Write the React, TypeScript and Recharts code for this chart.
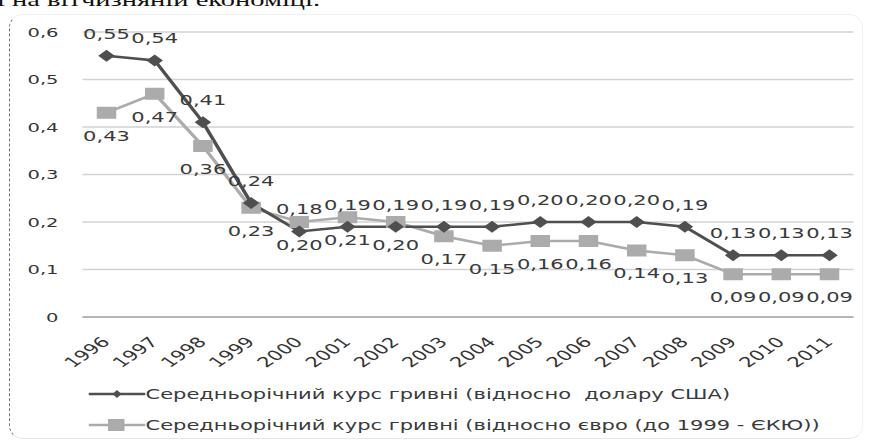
import React from 'react';
import { LineChart, Line, XAxis, YAxis, CartesianGrid, LabelList } from 'recharts';

const years = ['1996', '1997', '1998', '1999', '2000', '2001', '2002', '2003', '2004', '2005', '2006', '2007', '2008', '2009', '2010', '2011'];
const usdRate = [0.55, 0.54, 0.41, 0.24, 0.18, 0.19, 0.19, 0.19, 0.19, 0.2, 0.2, 0.2, 0.19, 0.13, 0.13, 0.13];
const eurRate = [0.43, 0.47, 0.36, 0.23, 0.2, 0.21, 0.2, 0.17, 0.15, 0.16, 0.16, 0.14, 0.13, 0.09, 0.09, 0.09];
const yTicks = [0, 0.1, 0.2, 0.3, 0.4, 0.5, 0.6];
const usdName = 'Середньорічний курс гривні (відносно  долару США)';
const eurName = 'Середньорічний курс гривні (відносно євро (до 1999 - ЄКЮ))';

const data = years.map((year, i) => ({ year, usd: usdRate[i], eur: eurRate[i] }));

// the source picture is stretched sideways, so the chart is drawn narrow and scaled
const STRETCH = 1.5;
const W = 581;
const H = 441;
const FONT = '"DejaVu Sans", Verdana, sans-serif';
const DARK = '#4f4f4f';
const LIGHT = '#ababab';

const fmt = (v: number) => v.toFixed(2).replace('.', ',');

const Diamond = ({ cx, cy }: any) => {
  if (cx == null || cy == null) return null;
  return <path d={`M${cx},${cy - 6} L${cx + 5.5},${cy} L${cx},${cy + 6} L${cx - 5.5},${cy} Z`} fill={DARK} />;
};

const Square = ({ cx, cy }: any) => {
  if (cx == null || cy == null) return null;
  return <rect x={cx - 6.5} y={cy - 6} width={13} height={12} fill={LIGHT} />;
};

const TopLabel = ({ x, y, value }: any) => (
  <text x={x} y={y - 17} textAnchor="middle" fontSize={14} fill="#3a3a3a" fontFamily={FONT}>
    {fmt(value)}
  </text>
);

const BottomLabel = ({ x, y, value }: any) => (
  <text x={x} y={y + 28} textAnchor="middle" fontSize={14} fill="#3a3a3a" fontFamily={FONT}>
    {fmt(value)}
  </text>
);

const YearTick = ({ x, y, payload }: any) => (
  <text
    transform={`translate(${x + 3},${y + 24}) rotate(-45)`}
    textAnchor="end"
    fontSize={14}
    fill="#333"
    fontFamily={FONT}
  >
    {payload.value}
  </text>
);

const LegendRow = ({ name, square }: { name: string; square?: boolean }) => (
  <div style={{ display: 'flex', alignItems: 'center', height: 31 }}>
    <svg width={38} height={14} style={{ flex: 'none' }}>
      <line x1={0} y1={7} x2={38} y2={7} stroke={square ? LIGHT : DARK} strokeWidth={2.5} />
      {square ? (
        <rect x={13} y={1} width={11} height={12} fill={LIGHT} />
      ) : (
        <path d="M19,3 L22,7 L19,11 L16,7 Z" fill={DARK} />
      )}
    </svg>
    <span style={{ fontSize: 14, color: '#3a3a3a', whiteSpace: 'pre', fontFamily: FONT }}>{name}</span>
  </div>
);

export default function App() {
  return (
    <div style={{ position: 'absolute', left: 0, top: 0, width: 872, height: 441, background: '#fff', overflow: 'hidden' }}>
      <div
        style={{
          position: 'absolute',
          left: 9,
          top: 14,
          width: 852,
          height: 423,
          borderLeft: '1px dashed #777',
          borderTop: '1px solid #f2f2f2',
          borderRight: '1px solid #f2f2f2',
          borderBottom: '1px solid #e6e6e6',
          borderRadius: 14,
        }}
      />
      <div
        style={{
          position: 'absolute',
          left: 0,
          top: 0,
          width: W,
          height: H,
          transform: `scaleX(${STRETCH})`,
          transformOrigin: '0 0',
        }}
      >
        <div
          style={{
            position: 'absolute',
            left: -2,
            top: -11,
            fontFamily: '"Liberation Serif", serif',
            fontSize: 19,
            color: '#111',
            whiteSpace: 'nowrap',
          }}
        >
          і на вітчизняній економіці.
        </div>
        <LineChart width={W} height={H} data={data} margin={{ top: 32, right: 12, left: 0, bottom: 0 }}>
          <CartesianGrid vertical={false} stroke="#d2d2d2" strokeWidth={1.5} />
          <XAxis
            dataKey="year"
            height={124}
            padding={{ left: 16, right: 16 }}
            tick={<YearTick />}
            tickLine={false}
            tickSize={0}
            axisLine={{ stroke: '#a8a8a8', strokeWidth: 1.5 }}
            interval={0}
          />
          <YAxis
            width={55}
            domain={[0, 0.6]}
            ticks={yTicks}
            axisLine={false}
            tickLine={false}
            tickSize={0}
            tickMargin={16}
            tickFormatter={(v: number) => (v === 0 ? '0' : v.toFixed(1).replace('.', ','))}
            tick={{ fontSize: 13, fill: '#333', fontFamily: FONT }}
          />
          <Line
            dataKey="eur"
            stroke={LIGHT}
            strokeWidth={2.5}
            dot={<Square />}
            isAnimationActive={false}
          >
            <LabelList dataKey="eur" content={<BottomLabel />} />
          </Line>
          <Line
            dataKey="usd"
            stroke={DARK}
            strokeWidth={2.5}
            dot={<Diamond />}
            isAnimationActive={false}
          >
            <LabelList dataKey="usd" content={<TopLabel />} />
          </Line>
        </LineChart>
        <div style={{ position: 'absolute', left: 59, top: 378 }}>
          <LegendRow name={usdName} />
          <LegendRow name={eurName} square />
        </div>
      </div>
    </div>
  );
}
